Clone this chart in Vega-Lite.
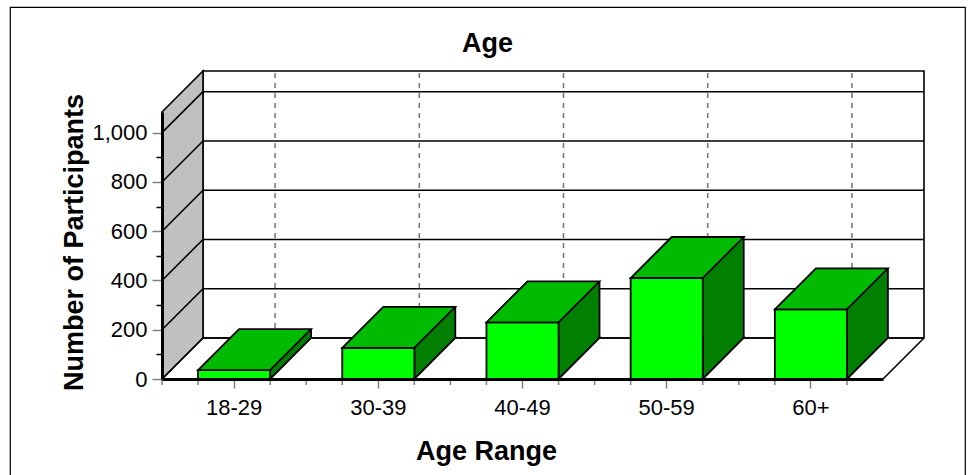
{
  "$schema": "https://vega.github.io/schema/vega-lite/v6.json",
  "width": 955,
  "height": 472,
  "autosize": {"type": "none"},
  "padding": {"left": 10, "top": 7, "right": 7, "bottom": 0},
  "background": "white",
  "config": {
    "font": "Liberation Sans",
    "view": {"stroke": "black", "strokeWidth": 1.2}
  },
  "title": {
    "text": "Age",
    "fontSize": 27,
    "fontWeight": "bold",
    "color": "black",
    "anchor": "middle",
    "frame": "group",
    "baseline": "alphabetic",
    "offset": -72
  },
  "datasets": {
    "ages": [
      {"age": "18-29", "n": 36},
      {"age": "30-39", "n": 126},
      {"age": "40-49", "n": 230},
      {"age": "50-59", "n": 410},
      {"age": "60+", "n": 283}
    ],
    "levels": [
      {"v": 0}, {"v": 200}, {"v": 400}, {"v": 600}, {"v": 800}, {"v": 1000}
    ],
    "walls": [{"floor": 0, "ceiling": 1084}]
  },
  "layer": [
    {
      "description": "back wall",
      "data": {"name": "walls"},
      "mark": {"type": "rect", "fill": "white", "stroke": "black", "strokeWidth": 1.6,
               "xOffset": 41, "x2Offset": 41, "yOffset": -41, "y2Offset": -41},
      "encoding": {
        "x": {"datum": "18-29", "type": "nominal", "bandPosition": 0,
              "scale": {"domain": ["18-29", "30-39", "40-49", "50-59", "60+"], "range": [152, 873], "paddingInner": 0, "paddingOuter": 0}},
        "x2": {"datum": "60+", "bandPosition": 1},
        "y": {"field": "floor", "type": "quantitative",
              "scale": {"domain": [0, 1084], "range": [372, 105], "nice": false, "zero": false}},
        "y2": {"field": "ceiling"}
      }
    },
    {
      "description": "horizontal gridlines on the back wall",
      "data": {"name": "levels"},
      "mark": {"type": "rule", "stroke": "black", "strokeWidth": 1.6,
               "xOffset": 41, "x2Offset": 41, "yOffset": -41},
      "encoding": {
        "x": {"datum": "18-29", "type": "nominal", "bandPosition": 0,
              "scale": {"domain": ["18-29", "30-39", "40-49", "50-59", "60+"], "range": [152, 873], "paddingInner": 0, "paddingOuter": 0}},
        "x2": {"datum": "60+", "bandPosition": 1},
        "y": {"field": "v", "type": "quantitative",
              "scale": {"domain": [0, 1084], "range": [372, 105], "nice": false, "zero": false}}
      }
    },
    {
      "description": "dashed category lines on the back wall",
      "data": {"name": "ages"},
      "mark": {"type": "rule", "stroke": "#7A7A7A", "strokeWidth": 1.6, "strokeDash": [5, 5],
               "xOffset": 41, "yOffset": -41, "y2Offset": -41},
      "encoding": {
        "x": {"field": "age", "type": "nominal",
              "scale": {"domain": ["18-29", "30-39", "40-49", "50-59", "60+"], "range": [152, 873], "paddingInner": 0, "paddingOuter": 0}},
        "y": {"datum": 0, "type": "quantitative",
              "scale": {"domain": [0, 1084], "range": [372, 105], "nice": false, "zero": false}},
        "y2": {"datum": 1084}
      }
    },
    {
      "description": "grey side wall",
      "data": {"name": "walls"},
      "mark": {"type": "point", "shape": "M0,0L0,-267L41,-308L41,-41Z", "size": 4,
               "filled": true, "fill": "#C0C0C0", "stroke": "black", "strokeWidth": 1.6, "opacity": 1},
      "encoding": {
        "x": {"datum": "18-29", "type": "nominal", "bandPosition": 0,
              "scale": {"domain": ["18-29", "30-39", "40-49", "50-59", "60+"], "range": [152, 873], "paddingInner": 0, "paddingOuter": 0}},
        "y": {"field": "floor", "type": "quantitative",
              "scale": {"domain": [0, 1084], "range": [372, 105], "nice": false, "zero": false}}
      }
    },
    {
      "description": "diagonal gridlines on the side wall",
      "data": {"name": "levels"},
      "mark": {"type": "rule", "stroke": "black", "strokeWidth": 1.6, "x2Offset": 41, "y2Offset": -41},
      "encoding": {
        "x": {"datum": "18-29", "type": "nominal", "bandPosition": 0,
              "scale": {"domain": ["18-29", "30-39", "40-49", "50-59", "60+"], "range": [152, 873], "paddingInner": 0, "paddingOuter": 0}},
        "x2": {"datum": "18-29", "bandPosition": 0},
        "y": {"field": "v", "type": "quantitative",
              "scale": {"domain": [0, 1084], "range": [372, 105], "nice": false, "zero": false}},
        "y2": {"field": "v"}
      }
    },
    {
      "description": "right edge of the floor",
      "data": {"name": "walls"},
      "mark": {"type": "rule", "stroke": "black", "strokeWidth": 1.6, "x2Offset": 41, "y2Offset": -41},
      "encoding": {
        "x": {"datum": "60+", "type": "nominal", "bandPosition": 1,
              "scale": {"domain": ["18-29", "30-39", "40-49", "50-59", "60+"], "range": [152, 873], "paddingInner": 0, "paddingOuter": 0}},
        "x2": {"datum": "60+", "bandPosition": 1},
        "y": {"field": "floor", "type": "quantitative",
              "scale": {"domain": [0, 1084], "range": [372, 105], "nice": false, "zero": false}},
        "y2": {"field": "floor"}
      }
    },
    {
      "description": "bar side faces (upper part)",
      "data": {"name": "ages"},
      "mark": {"type": "bar", "width": 41, "fill": "#007F00", "strokeWidth": 0,
               "xOffset": 56.5, "yOffset": -41, "y2Offset": -41},
      "encoding": {
        "x": {"field": "age", "type": "nominal",
              "scale": {"domain": ["18-29", "30-39", "40-49", "50-59", "60+"], "range": [152, 873], "paddingInner": 0, "paddingOuter": 0}},
        "y": {"field": "n", "type": "quantitative",
              "scale": {"domain": [0, 1084], "range": [372, 105], "nice": false, "zero": false}},
        "y2": {"datum": 0}
      }
    },
    {
      "description": "bar side faces (lower wedge on the floor)",
      "data": {"name": "ages"},
      "mark": {"type": "point", "shape": "M36,-43L36,0L77,-41L77,-43", "size": 4,
               "filled": true, "fill": "#007F00", "stroke": "black", "strokeWidth": 1.8, "opacity": 1},
      "encoding": {
        "x": {"field": "age", "type": "nominal",
              "scale": {"domain": ["18-29", "30-39", "40-49", "50-59", "60+"], "range": [152, 873], "paddingInner": 0, "paddingOuter": 0}},
        "y": {"datum": 0, "type": "quantitative",
              "scale": {"domain": [0, 1084], "range": [372, 105], "nice": false, "zero": false}}
      }
    },
    {
      "description": "bar side faces (back vertical edge)",
      "data": {"name": "ages"},
      "mark": {"type": "rule", "stroke": "black", "strokeWidth": 1.8,
               "xOffset": 77, "yOffset": -41, "y2Offset": -41},
      "encoding": {
        "x": {"field": "age", "type": "nominal",
              "scale": {"domain": ["18-29", "30-39", "40-49", "50-59", "60+"], "range": [152, 873], "paddingInner": 0, "paddingOuter": 0}},
        "y": {"field": "n", "type": "quantitative",
              "scale": {"domain": [0, 1084], "range": [372, 105], "nice": false, "zero": false}},
        "y2": {"datum": 0}
      }
    },
    {
      "description": "bar front faces, with both axes",
      "data": {"name": "ages"},
      "mark": {"type": "bar", "width": {"band": 0.5}, "fill": "#00FF00", "stroke": "black", "strokeWidth": 1.8},
      "encoding": {
        "x": {"field": "age", "type": "nominal",
              "scale": {"domain": ["18-29", "30-39", "40-49", "50-59", "60+"], "range": [152, 873], "paddingInner": 0, "paddingOuter": 0},
              "axis": {
                "orient": "bottom", "offset": -100, "zindex": 1,
                "title": "Age Range", "titleFontSize": 27, "titleFontWeight": "bold", "titleColor": "black",
                "titleX": 476, "titleY": 80, "titleAlign": "center", "titleBaseline": "alphabetic", "titleAngle": 0,
                "domainColor": "black", "domainWidth": 3,
                "tickColor": "#808080", "tickWidth": 1.5, "tickSize": 9,
                "labelFontSize": 22, "labelColor": "black", "labelAngle": 0, "labelAlign": "center",
                "labelBaseline": "alphabetic", "labelPadding": 26, "grid": false
              }},
        "y": {"field": "n", "type": "quantitative",
              "scale": {"domain": [0, 1084], "range": [372, 105], "nice": false, "zero": false},
              "axis": {
                "orient": "left", "offset": -152, "zindex": 1,
                "values": [0, 50, 100, 150, 200, 250, 300, 350, 400, 450, 500, 550, 600, 650, 700, 750, 800, 850, 900, 950, 1000, 1050],
                "title": "Number of Participants", "titleFontSize": 27, "titleFontWeight": "bold", "titleColor": "black",
                "titleAngle": -90, "titleX": -80, "titleY": 235, "titleAlign": "center", "titleBaseline": "alphabetic",
                "domainColor": "black", "domainWidth": 3,
                "tickColor": {"condition": {"test": "datum.value % 200 === 0", "value": "#808080"}, "value": "black"},
                "tickSize": {"condition": {"test": "datum.value % 200 === 0", "value": 10}, "value": 6},
                "tickWidth": 1.5,
                "labelExpr": "datum.value % 200 === 0 ? format(datum.value, ',') : ''",
                "labelFontSize": 22, "labelColor": "black", "labelPadding": 5, "labelBaseline": "middle",
                "labelFlush": false, "labelOverlap": false, "grid": false
              }},
        "y2": {"datum": 0}
      }
    },
    {
      "description": "bar top faces",
      "data": {"name": "ages"},
      "mark": {"type": "point", "shape": "M-36,0L36,0L77,-41L5,-41Z", "size": 4,
               "filled": true, "fill": "#00BB00", "stroke": "black", "strokeWidth": 1.8, "opacity": 1},
      "encoding": {
        "x": {"field": "age", "type": "nominal",
              "scale": {"domain": ["18-29", "30-39", "40-49", "50-59", "60+"], "range": [152, 873], "paddingInner": 0, "paddingOuter": 0}},
        "y": {"field": "n", "type": "quantitative",
              "scale": {"domain": [0, 1084], "range": [372, 105], "nice": false, "zero": false}}
      }
    },
    {
      "description": "short ticks at category boundaries",
      "data": {"name": "ages"},
      "mark": {"type": "rule", "stroke": "#808080", "strokeWidth": 1.5, "y2Offset": 6},
      "encoding": {
        "x": {"field": "age", "type": "nominal", "bandPosition": 0,
              "scale": {"domain": ["18-29", "30-39", "40-49", "50-59", "60+"], "range": [152, 873], "paddingInner": 0, "paddingOuter": 0}},
        "y": {"datum": 0, "type": "quantitative",
              "scale": {"domain": [0, 1084], "range": [372, 105], "nice": false, "zero": false}},
        "y2": {"datum": 0}
      }
    },
    {
      "description": "short ticks under the left edge of each bar",
      "data": {"name": "ages"},
      "mark": {"type": "rule", "stroke": "#808080", "strokeWidth": 1.5, "y2Offset": 6},
      "encoding": {
        "x": {"field": "age", "type": "nominal", "bandPosition": 0.25,
              "scale": {"domain": ["18-29", "30-39", "40-49", "50-59", "60+"], "range": [152, 873], "paddingInner": 0, "paddingOuter": 0}},
        "y": {"datum": 0, "type": "quantitative",
              "scale": {"domain": [0, 1084], "range": [372, 105], "nice": false, "zero": false}},
        "y2": {"datum": 0}
      }
    },
    {
      "description": "short ticks under the right edge of each bar",
      "data": {"name": "ages"},
      "mark": {"type": "rule", "stroke": "#808080", "strokeWidth": 1.5, "y2Offset": 6},
      "encoding": {
        "x": {"field": "age", "type": "nominal", "bandPosition": 0.75,
              "scale": {"domain": ["18-29", "30-39", "40-49", "50-59", "60+"], "range": [152, 873], "paddingInner": 0, "paddingOuter": 0}},
        "y": {"datum": 0, "type": "quantitative",
              "scale": {"domain": [0, 1084], "range": [372, 105], "nice": false, "zero": false}},
        "y2": {"datum": 0}
      }
    }
  ]
}
